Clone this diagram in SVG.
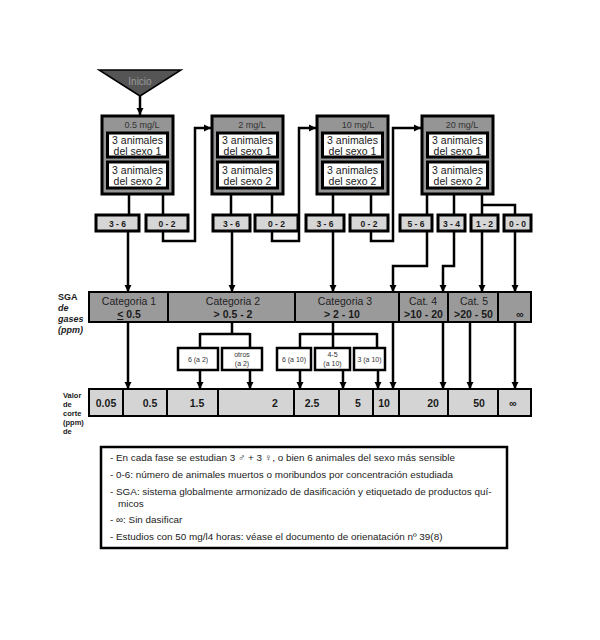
<svg xmlns="http://www.w3.org/2000/svg" width="600" height="640" viewBox="0 0 600 640">
<style>
text{font-family:"Liberation Sans",Arial,sans-serif;fill:#1a1a1a}
.stage{fill:#959595;stroke:#000;stroke-width:3}
.inner{fill:#fff;stroke:#000;stroke-width:3}
.res{fill:#d6d6d6;stroke:#000;stroke-width:3}
.cat{fill:#9a9a9a;stroke:#000;stroke-width:2}
.val{fill:#d4d4d4;stroke:#000;stroke-width:2}
.sub{fill:#fff;stroke:#000;stroke-width:2.5}
.t10{font-size:10.5px;text-anchor:middle}
.ttl{font-size:9px;text-anchor:middle;fill:#333}
.rb{font-size:8.5px;font-weight:bold;text-anchor:middle}
.cb{font-size:10.5px;text-anchor:middle;fill:#222}
.cbb{font-size:10.5px;font-weight:bold;text-anchor:middle}
.vb{font-size:10.5px;font-weight:bold;text-anchor:middle}
.st{font-size:7px;text-anchor:middle;fill:#333}
.lbl{font-size:9px;font-weight:bold}
.lbli{font-size:9px;font-weight:bold;font-style:italic}
.lbl2{font-size:7.5px;font-weight:bold}
.leg{font-size:9.9px;fill:#222}
#connectors path{fill:none;stroke:#000;stroke-width:2.5}
</style>
<defs>
<marker id="ah" markerUnits="userSpaceOnUse" markerWidth="8" markerHeight="8" refX="7" refY="4" orient="auto">
<path d="M0,0.5 L7,4 L0,7.5 Z" fill="#000"/>
</marker>
</defs>
<rect width="600" height="640" fill="#fff"/>

<g id="connectors">
<path d="M140,96 V115" marker-end="url(#ah)"/>
<path d="M129,193 V214 M163,193 V214"/>
<path d="M128,232 V292" marker-end="url(#ah)"/>
<path d="M163,232 V241 H195 V128 H211" marker-end="url(#ah)"/>
<path d="M231,193 V214 M272,193 V214"/>
<path d="M232,232 V292" marker-end="url(#ah)"/>
<path d="M272,232 V241 H299 V128 H316" marker-end="url(#ah)"/>
<path d="M333,193 V214 M371,193 V214"/>
<path d="M333,232 V292" marker-end="url(#ah)"/>
<path d="M371,232 V241 H393 V128 H421" marker-end="url(#ah)"/>
<path d="M427,194 V214 M454,194 V214 M482,194 V214 M482,205 H515 V214"/>
<path d="M427,231 V266 H393 V292" marker-end="url(#ah)"/>
<path d="M454,231 V266 H443 V292" marker-end="url(#ah)"/>
<path d="M482,231 V292" marker-end="url(#ah)"/>
<path d="M515,231 V292" marker-end="url(#ah)"/>
<path d="M128,322 V389" marker-end="url(#ah)"/>
<path d="M232,322 V334 M200,334 H250 M200,333 V348 M250,333 V348"/>
<path d="M200,370 V389" marker-end="url(#ah)"/>
<path d="M250,370 V389" marker-end="url(#ah)"/>
<path d="M333,322 V348 M300,334 H377 M300,333 V348 M377,333 V348"/>
<path d="M300,370 V389" marker-end="url(#ah)"/>
<path d="M343,370 V389" marker-end="url(#ah)"/>
<path d="M378,370 V389" marker-end="url(#ah)"/>
<path d="M393,322 V389" marker-end="url(#ah)"/>
<path d="M443,322 V389" marker-end="url(#ah)"/>
<path d="M470,322 V389" marker-end="url(#ah)"/>
<path d="M515,322 V389" marker-end="url(#ah)"/>
</g>

<g id="inicio">
<path d="M99,70 H181 L140,96 Z" fill="#555" stroke="#000" stroke-width="1.5"/>
<text x="140" y="85" style="font-size:10px;text-anchor:middle;fill:#9a9a9a">Inicio</text>
</g>

<g id="stage1">
<rect class="stage" x="102" y="116" width="71" height="78"/>
<text class="ttl" x="142" y="128">0.5 mg/L</text>
<rect class="inner" x="107.5" y="133" width="60" height="24"/>
<text class="t10" x="137.5" y="144">3 animales</text><text class="t10" x="137.5" y="155">del sexo 1</text>
<rect class="inner" x="107.5" y="162" width="60" height="26"/>
<text class="t10" x="137.5" y="174">3 animales</text><text class="t10" x="137.5" y="185">del sexo 2</text>
</g>
<g id="stage2">
<rect class="stage" x="212" y="116" width="71" height="78"/>
<text class="ttl" x="252" y="128">2  mg/L</text>
<rect class="inner" x="217.5" y="133" width="60" height="24"/>
<text class="t10" x="247.5" y="144">3 animales</text><text class="t10" x="247.5" y="155">del sexo 1</text>
<rect class="inner" x="217.5" y="162" width="60" height="26"/>
<text class="t10" x="247.5" y="174">3 animales</text><text class="t10" x="247.5" y="185">del sexo 2</text>
</g>
<g id="stage3">
<rect class="stage" x="317" y="116" width="71" height="78"/>
<text class="ttl" x="358" y="128">10 mg/L</text>
<rect class="inner" x="322.5" y="133" width="60" height="24"/>
<text class="t10" x="352.5" y="144">3 animales</text><text class="t10" x="352.5" y="155">del sexo 1</text>
<rect class="inner" x="322.5" y="162" width="60" height="26"/>
<text class="t10" x="352.5" y="174">3 animales</text><text class="t10" x="352.5" y="185">del sexo 2</text>
</g>
<g id="stage4">
<rect class="stage" x="422" y="116" width="71" height="78"/>
<text class="ttl" x="462" y="128">20 mg/L</text>
<rect class="inner" x="427.5" y="133" width="60" height="24"/>
<text class="t10" x="457.5" y="144">3 animales</text><text class="t10" x="457.5" y="155">del sexo 1</text>
<rect class="inner" x="427.5" y="162" width="60" height="26"/>
<text class="t10" x="457.5" y="174">3 animales</text><text class="t10" x="457.5" y="185">del sexo 2</text>
</g>

<g id="results">
<g id="r1a"><rect class="res" x="96" y="215" width="43" height="16"/><text class="rb" x="117.5" y="226.5">3 - 6</text></g>
<g id="r1b"><rect class="res" x="146" y="215" width="42" height="16"/><text class="rb" x="167" y="226.5">0 - 2</text></g>
<g id="r2a"><rect class="res" x="213" y="215" width="37" height="16"/><text class="rb" x="231.5" y="226.5">3 - 6</text></g>
<g id="r2b"><rect class="res" x="255" y="215" width="43" height="16"/><text class="rb" x="276.5" y="226.5">0 - 2</text></g>
<g id="r3a"><rect class="res" x="306" y="215" width="38" height="16"/><text class="rb" x="325" y="226.5">3 - 6</text></g>
<g id="r3b"><rect class="res" x="350" y="215" width="38" height="16"/><text class="rb" x="369" y="226.5">0 - 2</text></g>
<g id="r4a"><rect class="res" x="400" y="215" width="32" height="16"/><text class="rb" x="416" y="226.5">5 - 6</text></g>
<g id="r4b"><rect class="res" x="438" y="215" width="27" height="16"/><text class="rb" x="451.5" y="226.5">3 - 4</text></g>
<g id="r4c"><rect class="res" x="471" y="215" width="27" height="16"/><text class="rb" x="484.5" y="226.5">1 - 2</text></g>
<g id="r4d"><rect class="res" x="504" y="215" width="27" height="16"/><text class="rb" x="517.5" y="226.5">0 - 0</text></g>
</g>

<g id="sga-label">
<text class="lbl" x="58" y="300">SGA</text>
<text class="lbli" x="58" y="311">de</text>
<text class="lbli" x="58" y="322">gases</text>
<text class="lbli" x="58" y="333">(ppm)</text>
</g>

<g id="categories">
<g id="cat1"><rect class="cat" x="89" y="292" width="79" height="30"/><text class="cb" x="129" y="305">Categoria 1</text><text class="cbb" x="129" y="318"><tspan text-decoration="underline">&lt;</tspan> 0.5</text></g>
<g id="cat2"><rect class="cat" x="168" y="292" width="127" height="30"/><text class="cb" x="233" y="305">Categoria 2</text><text class="cbb" x="233" y="318">&gt; 0.5 - 2</text></g>
<g id="cat3"><rect class="cat" x="295" y="292" width="104" height="30"/><text class="cb" x="345" y="305">Categoria 3</text><text class="cbb" x="342" y="318">&gt; 2 - 10</text></g>
<g id="cat4"><rect class="cat" x="399" y="292" width="49" height="30"/><text class="cb" x="423" y="305">Cat. 4</text><text class="cbb" x="423.5" y="318">&gt;10 - 20</text></g>
<g id="cat5"><rect class="cat" x="448" y="292" width="50" height="30"/><text class="cb" x="474" y="305">Cat. 5</text><text class="cbb" x="473.5" y="318">&gt;20 - 50</text></g>
<g id="cat6"><rect class="cat" x="498" y="292" width="33" height="30"/><text class="cbb" x="520" y="318">∞</text></g>
</g>

<g id="subs">
<g id="s1"><rect class="sub" x="178" y="348" width="40" height="22"/><text class="st" x="198" y="361.5">6 (a 2)</text></g>
<g id="s2"><rect class="sub" x="222" y="348" width="40" height="22"/><text class="st" x="242" y="357">otros</text><text class="st" x="242" y="366">(a 2)</text></g>
<g id="s3"><rect class="sub" x="277" y="348" width="34" height="22"/><text class="st" x="294" y="361.5">6 (a 10)</text></g>
<g id="s4"><rect class="sub" x="315" y="348" width="35" height="22"/><text class="st" x="332.5" y="357">4-5</text><text class="st" x="332.5" y="366">(a 10)</text></g>
<g id="s5"><rect class="sub" x="354" y="348" width="31" height="22"/><text class="st" x="369.5" y="361.5">3 (a 10)</text></g>
</g>

<g id="valor-label">
<text class="lbl2" x="63" y="398">Valor</text>
<text class="lbl2" x="63" y="407">de</text>
<text class="lbl2" x="63" y="416">corte</text>
<text class="lbl2" x="63" y="425">(ppm)</text>
<text class="lbl2" x="63" y="434">de</text>
</g>

<g id="values">
<g id="v1"><rect class="val" x="89" y="389" width="34" height="27"/><text class="vb" x="106" y="407">0.05</text></g>
<g id="v2"><rect class="val" x="123" y="389" width="44" height="27"/><text class="vb" x="150" y="407">0.5</text></g>
<g id="v3"><rect class="val" x="167" y="389" width="51" height="27"/><text class="vb" x="197" y="407">1.5</text></g>
<g id="v4"><rect class="val" x="218" y="389" width="76" height="27"/><text class="vb" x="275" y="407">2</text></g>
<g id="v5"><rect class="val" x="294" y="389" width="45" height="27"/><text class="vb" x="312" y="407">2.5</text></g>
<g id="v6"><rect class="val" x="339" y="389" width="34" height="27"/><text class="vb" x="358" y="407">5</text></g>
<g id="v7"><rect class="val" x="373" y="389" width="26" height="27"/><text class="vb" x="384" y="407">10</text></g>
<g id="v8"><rect class="val" x="399" y="389" width="49" height="27"/><text class="vb" x="433" y="407">20</text></g>
<g id="v9"><rect class="val" x="448" y="389" width="50" height="27"/><text class="vb" x="479" y="407">50</text></g>
<g id="v10"><rect class="val" x="498" y="389" width="33" height="27"/><text class="vb" x="513" y="407">∞</text></g>
</g>

<g id="legend">
<rect x="101" y="447" width="406" height="101" fill="#fff" stroke="#000" stroke-width="2.5"/>
<text class="leg" x="110" y="461">-  En cada fase se estudian 3 ♂ + 3 ♀, o bien 6 animales del sexo más sensible</text>
<text class="leg" x="110" y="478">-  0-6: número de animales muertos o moribundos por concentración estudiada</text>
<text class="leg" x="110" y="495">-  SGA: sistema globalmente armonizado de dasificación y etiquetado de productos quí-</text>
<text class="leg" x="118" y="507">micos</text>
<text class="leg" x="110" y="523">-  ∞: Sin dasificar</text>
<text class="leg" x="110" y="540">-  Estudios con 50 mg/l4 horas: véase el documento de orienatación nº 39(8)</text>
</g>
</svg>
